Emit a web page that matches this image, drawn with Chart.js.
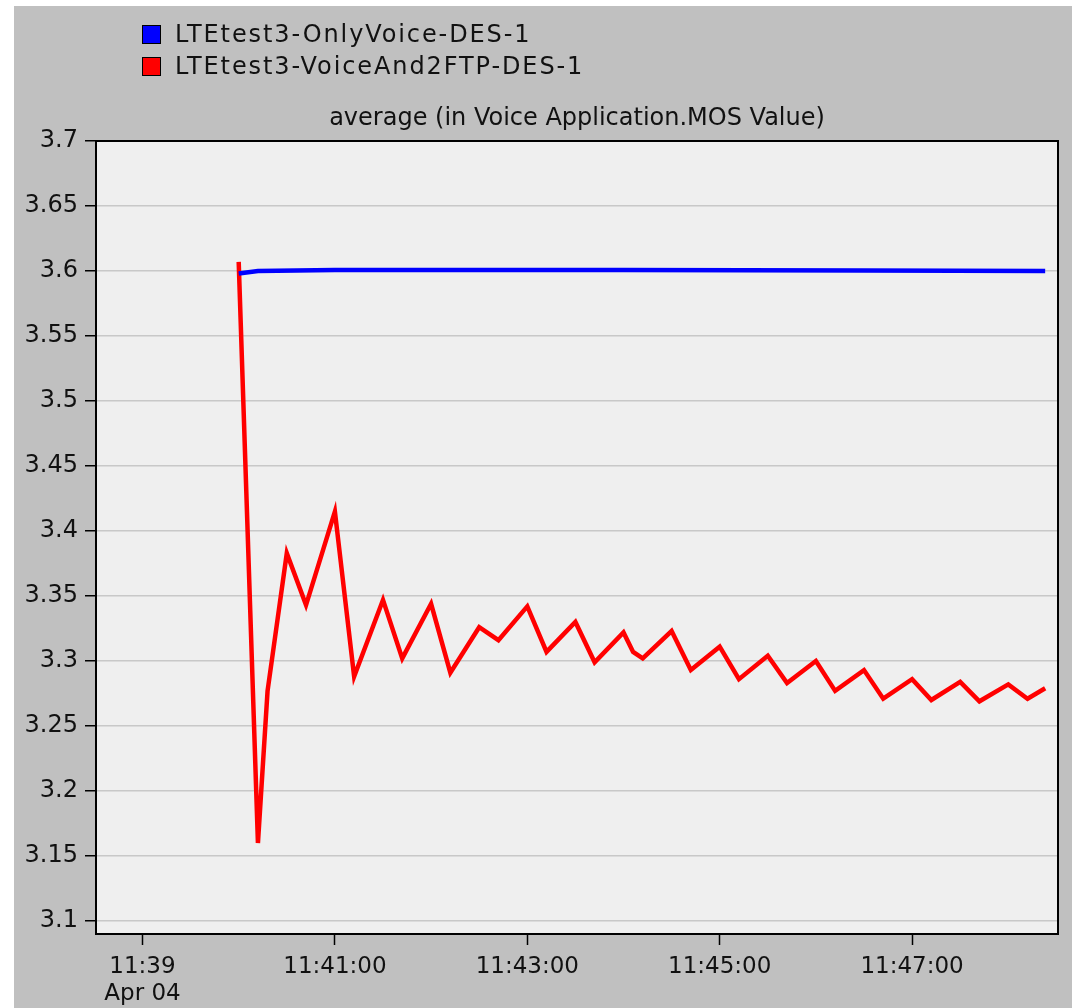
<!DOCTYPE html>
<html>
<head>
<meta charset="utf-8">
<script src="https://cdn.jsdelivr.net/npm/chart.js@4"></script>
<style>
  body { margin: 0; background: #fff; }
  #wrap { position: relative; width: 1072px; height: 1008px; }
  #legend { position: absolute; left: 142px; top: 18px; font-family: 'DejaVu Sans'; font-size: 24px; color: #111; letter-spacing: 1.9px; }
  .row { height: 32px; display: flex; align-items: center; }
  .box { width: 19px; height: 19px; box-sizing: border-box; border: 1px solid #000; margin-right: 14px; }
  #title { position: absolute; left: 96px; width: 962px; top: 102px; line-height: 30px; text-align: center; font-family: 'DejaVu Sans'; font-size: 24px; color: #111; }
</style>
</head>
<body>
<div id="wrap">
  <canvas id="myChart"></canvas>
  <div id="legend"></div>
  <div id="title">average (in Voice Application.MOS Value)</div>
</div>
<script>
// seconds after 11:39:00
var seriesNames = ["LTEtest3-OnlyVoice-DES-1", "LTEtest3-VoiceAnd2FTP-DES-1"];
var seriesColors = ["#0000ff", "#ff0000"];

var blueTimes = [60, 72, 120, 300, 450, 563];
var blueValues = [3.598, 3.6, 3.6008, 3.6008, 3.6004, 3.6];

var redTimes = [60, 72, 78, 90, 102, 120, 132, 150, 162, 180, 192, 210, 222, 240, 252, 270, 282,
  300, 306, 312, 330, 342, 360, 372, 390, 402, 420, 432, 450, 462, 480, 492, 510, 522, 540, 552, 563];
var redValues = [3.607, 3.160, 3.277, 3.383, 3.343, 3.415, 3.288, 3.347, 3.302, 3.344, 3.291, 3.326, 3.316, 3.342, 3.307, 3.330, 3.299,
  3.322, 3.307, 3.302, 3.323, 3.293, 3.311, 3.286, 3.304, 3.283, 3.300, 3.277, 3.293, 3.271, 3.286, 3.270, 3.284, 3.269, 3.282, 3.271, 3.279];

var xTickSecs = [0, 120, 240, 360, 480];
var xTickLabels = [["11:39", "Apr 04"], "11:41:00", "11:43:00", "11:45:00", "11:47:00"];
var yTicks = [3.1, 3.15, 3.2, 3.25, 3.3, 3.35, 3.4, 3.45, 3.5, 3.55, 3.6, 3.65, 3.7];

function toPoints(xs, ys) {
  var pts = [];
  for (var i = 0; i < xs.length; i++) pts.push({ x: xs[i], y: ys[i] });
  return pts;
}

// html legend
var legendEl = document.getElementById("legend");
seriesNames.forEach(function (name, i) {
  var row = document.createElement("div");
  row.className = "row";
  var box = document.createElement("div");
  box.className = "box";
  box.style.background = seriesColors[i];
  var txt = document.createElement("span");
  txt.textContent = name;
  row.appendChild(box);
  row.appendChild(txt);
  legendEl.appendChild(row);
});

var bgPlugin = {
  id: "bg",
  beforeDraw: function (chart) {
    var c = chart.ctx, a = chart.chartArea;
    c.save();
    c.fillStyle = "#ffffff";
    c.fillRect(0, 0, chart.width, chart.height);
    c.fillStyle = "#c0c0c0";
    c.fillRect(14, 6, chart.width - 14, chart.height - 6);
    c.fillStyle = "#efefef";
    c.fillRect(a.left, a.top, a.right - a.left, a.bottom - a.top);
    c.restore();
  },
  afterDraw: function (chart) {
    var c = chart.ctx, a = chart.chartArea;
    c.save();
    c.strokeStyle = "#000";
    c.lineWidth = 2;
    c.strokeRect(a.left, a.top, a.right - a.left, a.bottom - a.top);
    c.restore();
  }
};

Chart.defaults.font.family = "'DejaVu Sans'";
Chart.defaults.font.size = 23;
Chart.defaults.color = "#111";

var ctx = document.getElementById("myChart").getContext("2d");
var myChart = new Chart(ctx, {
  type: "line",
  data: {
    datasets: [
      {
        label: seriesNames[0],
        data: toPoints(blueTimes, blueValues),
        borderColor: seriesColors[0],
        borderWidth: 4.5,
        pointRadius: 0,
        tension: 0,
        fill: false
      },
      {
        label: seriesNames[1],
        data: toPoints(redTimes, redValues),
        borderColor: seriesColors[1],
        borderWidth: 4.5,
        pointRadius: 0,
        tension: 0,
        fill: false
      }
    ]
  },
  options: {
    responsive: true,
    maintainAspectRatio: false,
    animation: false,
    layout: { padding: { top: 141, left: 14, right: 14, bottom: 0 } },
    plugins: {
      legend: { display: false },
      title: { display: false },
      tooltip: { enabled: false }
    },
    scales: {
      x: {
        type: "linear",
        min: -29,
        max: 571,
        afterBuildTicks: function (scale) {
          scale.ticks = xTickSecs.map(function (v) { return { value: v }; });
        },
        afterFit: function (scale) { scale.height = 74; },
        ticks: {
          padding: 8,
          maxRotation: 0,
          autoSkip: false,
          callback: function (v) {
            var i = xTickSecs.indexOf(v);
            return i >= 0 ? xTickLabels[i] : "";
          }
        },
        grid: { drawOnChartArea: false, drawTicks: true, tickLength: 11, tickColor: "#000", tickWidth: 1.5 },
        border: { display: false }
      },
      y: {
        min: 3.09,
        max: 3.7,
        afterBuildTicks: function (scale) {
          scale.ticks = yTicks.map(function (v) { return { value: v }; });
        },
        afterFit: function (scale) { scale.width = 82; },
        ticks: {
          padding: 7,
          font: { size: 24 },
          callback: function (v) { return String(+v.toFixed(2)); }
        },
        grid: { color: "#c8c8c8", lineWidth: 1.5, tickLength: 11, tickColor: "#000", tickWidth: 1.5 },
        border: { display: false }
      }
    }
  },
  plugins: [bgPlugin]
});
</script>
</body>
</html>
